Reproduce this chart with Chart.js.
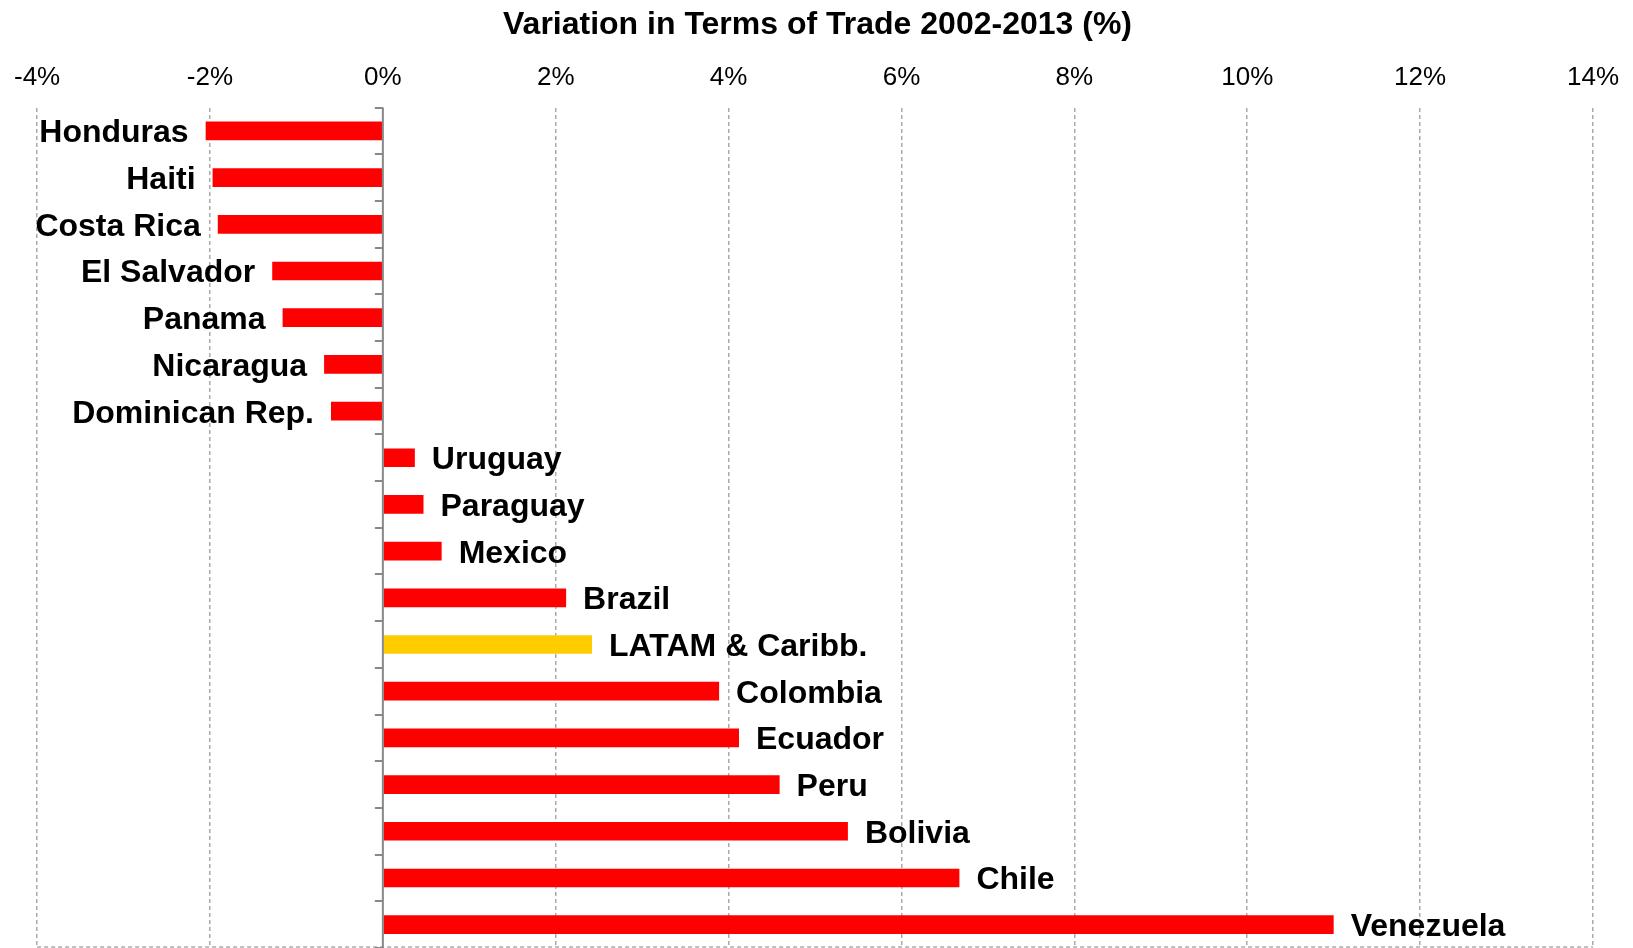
<!DOCTYPE html>
<html>
<head>
<meta charset="utf-8">
<script src="https://cdn.jsdelivr.net/npm/chart.js@4.4.1/dist/chart.umd.min.js"></script>
<style>
  html, body { margin: 0; padding: 0; background: #fff; }
  #wrap { width: 1633px; height: 948px; position: relative; }
</style>
</head>
<body>
<div id="wrap"><canvas id="c"></canvas></div>
<script>
const titleText = 'Variation in Terms of Trade 2002-2013 (%)';
const categories = ['Honduras', 'Haiti', 'Costa Rica', 'El Salvador', 'Panama', 'Nicaragua', 'Dominican Rep.',
  'Uruguay', 'Paraguay', 'Mexico', 'Brazil', 'LATAM & Caribb.', 'Colombia', 'Ecuador', 'Peru', 'Bolivia', 'Chile', 'Venezuela'];
const values = [-2.05, -1.97, -1.91, -1.28, -1.16, -0.68, -0.60,
  0.37, 0.47, 0.68, 2.12, 2.42, 3.89, 4.12, 4.59, 5.38, 6.67, 11.0];
const highlightCategory = 'LATAM & Caribb.';
const xMin = -4, xMax = 14, xStep = 2;

const RED = '#FF0000', YELLOW = '#FFCC00';
const FONT = '"Liberation Sans", Arial, Helvetica, sans-serif';
const LABEL_SIZE = 32;

const decor = {
  id: 'decor',
  beforeDatasetsDraw(chart) {
    const {ctx, chartArea: a} = chart;
    ctx.save();
    ctx.strokeStyle = '#aaaaaa';
    ctx.lineWidth = 1.5;
    ctx.setLineDash([4, 3]);
    ctx.beginPath();
    ctx.moveTo(a.left, a.bottom - 1);
    ctx.lineTo(a.right, a.bottom - 1);
    ctx.stroke();
    ctx.restore();
  },
  afterDatasetsDraw(chart) {
    const {ctx, chartArea: a, scales} = chart;
    const x = scales.x, y = scales.y;
    const x0 = x.getPixelForValue(0);
    ctx.save();
    ctx.strokeStyle = '#888888';
    ctx.lineWidth = 2;
    ctx.beginPath();
    ctx.moveTo(x0, a.top);
    ctx.lineTo(x0, a.bottom);
    for (let i = 0; i <= categories.length; i++) {
      const py = Math.round(y.getPixelForValue(i - 0.5));
      ctx.moveTo(x0 - 8, py);
      ctx.lineTo(x0, py);
    }
    ctx.stroke();
    const meta = chart.getDatasetMeta(0);
    ctx.fillStyle = '#000';
    ctx.font = 'bold ' + LABEL_SIZE + 'px ' + FONT;
    ctx.textBaseline = 'alphabetic';
    meta.data.forEach((bar, i) => {
      const v = values[i];
      const yy = bar.y + LABEL_SIZE * 0.716 / 2;
      if (v < 0) {
        ctx.textAlign = 'right';
        ctx.fillText(categories[i], bar.x - 17, yy);
      } else {
        ctx.textAlign = 'left';
        ctx.fillText(categories[i], bar.x + 17, yy);
      }
    });
    ctx.restore();
  }
};

new Chart(document.getElementById('c'), {
  type: 'bar',
  data: {
    labels: categories,
    datasets: [{
      data: values,
      backgroundColor: categories.map(c => c === highlightCategory ? YELLOW : RED),
      borderWidth: 0,
      barPercentage: 0.4,
      categoryPercentage: 1.0
    }]
  },
  options: {
    indexAxis: 'y',
    responsive: true,
    maintainAspectRatio: false,
    animation: false,
    layout: { padding: { left: 34, right: 32, top: 0, bottom: 0 } },
    plugins: {
      legend: { display: false },
      tooltip: { enabled: false },
      title: {
        display: true,
        text: titleText,
        color: '#000',
        font: { family: FONT, size: 32, weight: 'bold' },
        padding: { top: 6, bottom: 4 }
      }
    },
    scales: {
      x: {
        type: 'linear',
        position: 'top',
        min: xMin, max: xMax,
        ticks: {
          stepSize: xStep,
          color: '#000',
          font: { family: FONT, size: 26 },
          padding: 14,
          callback: v => v + '%'
        },
        grid: {
          drawTicks: false,
          lineWidth: 1.5,
          color: ctx => (ctx.tick && ctx.tick.value === 0) ? 'rgba(0,0,0,0)' : '#aaaaaa'
        },
        border: { display: false, dash: [4, 3] }
      },
      y: {
        display: false,
        offset: true
      }
    }
  },
  plugins: [decor]
});
</script>
</body>
</html>
